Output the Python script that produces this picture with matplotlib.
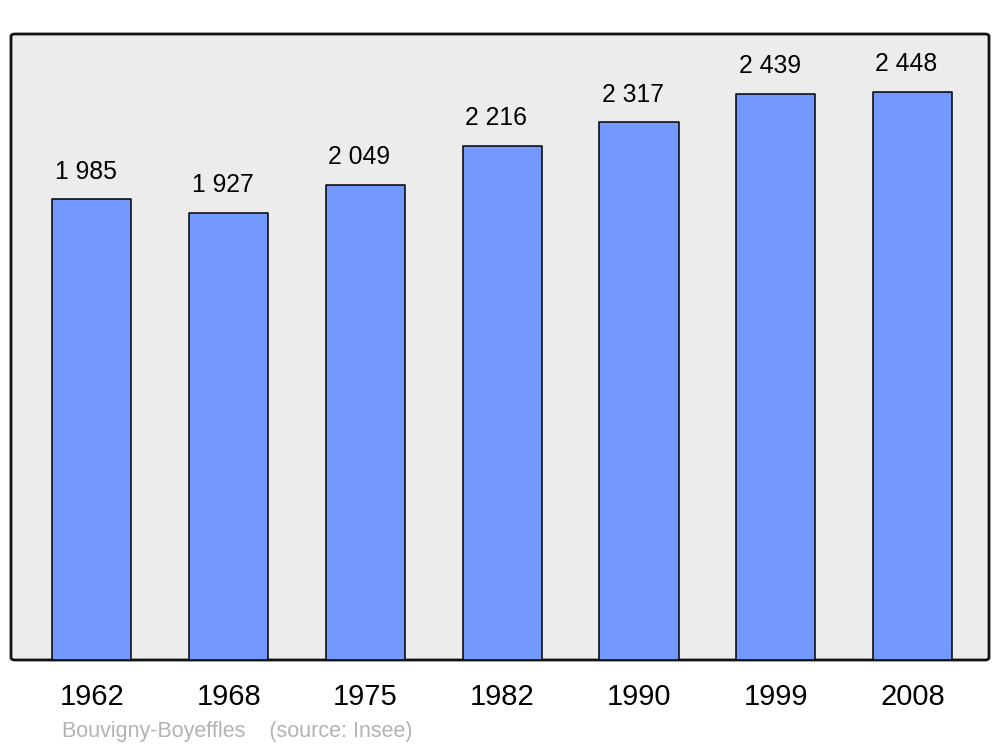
import matplotlib
matplotlib.use("Agg")
import matplotlib.pyplot as plt
from matplotlib.patches import FancyBboxPatch
import numpy as np

plt.rcParams['font.family'] = ['Liberation Sans', 'DejaVu Sans']

years = ['1962', '1968', '1975', '1982', '1990', '1999', '2008']
population = [1985, 1927, 2049, 2216, 2317, 2439, 2448]
value_labels = ['1 985', '1 927', '2 049', '2 216', '2 317', '2 439', '2 448']
caption = 'Bouvigny-Boyeffles    (source: Insee)'

fig = plt.figure(figsize=(10, 7.47), dpi=100)
ax = fig.add_axes([0.011, 87 / 747, 0.978, 626 / 747])

ind = np.arange(len(years))
bars = ax.bar(ind, population, 0.578, color='#7399ff', edgecolor='black',
              linewidth=1.1, zorder=3)
for b in bars:
    b.set_joinstyle('round')

for x, y, lab in zip(ind, population, value_labels):
    ax.annotate(lab, (x, y), xytext=(-4.5, 20), textcoords='offset points',
                ha='center', va='center', fontsize=17.8)

ax.set_xlim(-0.592, 6.559)
ax.set_ylim(0, 2698)
ax.set_yticks([])
ax.set_xticks(ind)
ax.set_xticklabels(years, fontsize=21)
ax.tick_params(axis='x', length=0, pad=16.5)

# rounded frame
ax.patch.set_visible(False)
for s in ax.spines.values():
    s.set_visible(False)
frame = FancyBboxPatch((0, 0), 1, 1, boxstyle='round,pad=0,rounding_size=0.004',
                       transform=ax.transAxes, facecolor='#ececec',
                       edgecolor='#111111', linewidth=2.0, zorder=0,
                       clip_on=False)
ax.add_patch(frame)

fig.text(0.062, 1 - 732 / 747, caption, color='#b3b3b3', fontsize=15.5,
         ha='left', va='center')

fig.savefig('out.png', dpi=100)
